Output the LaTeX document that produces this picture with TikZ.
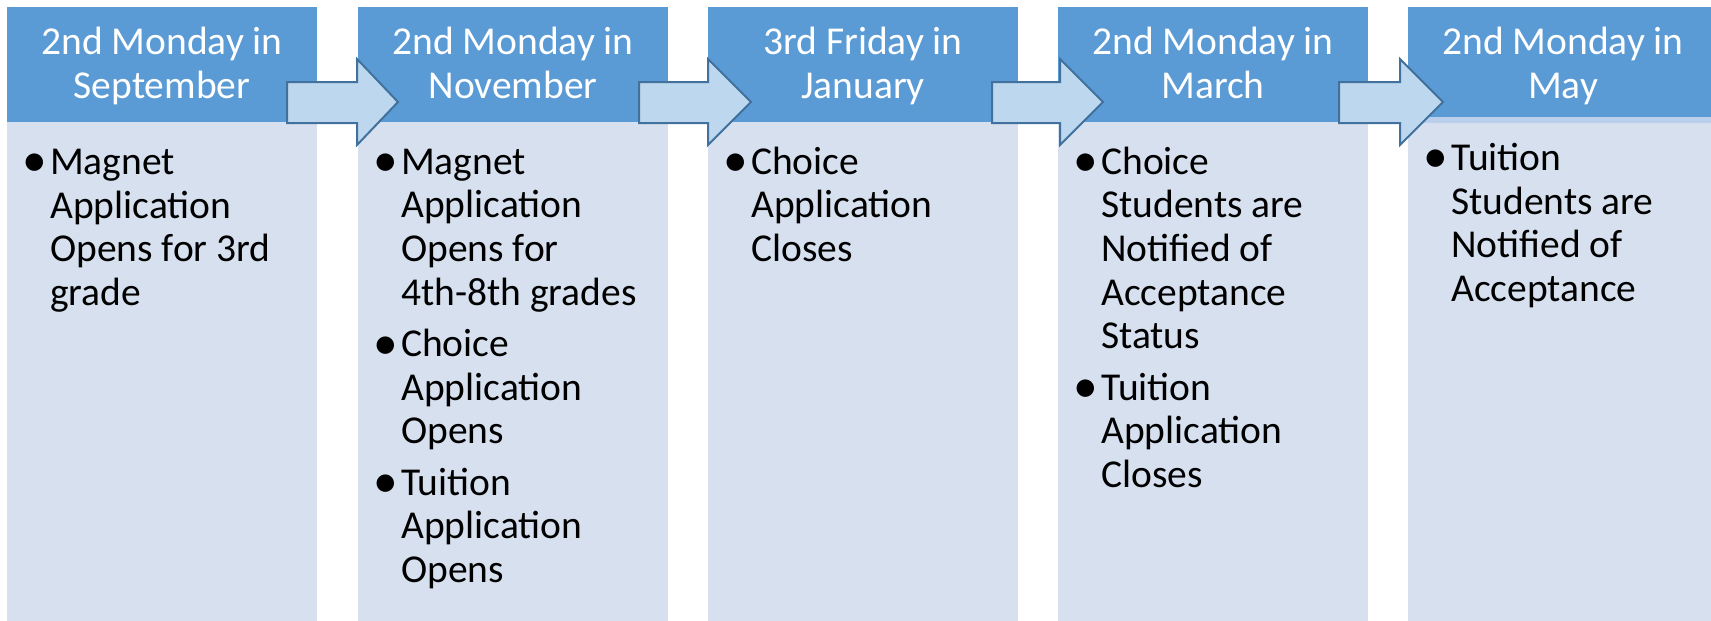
\documentclass[tikz,border=0pt]{standalone}
\usepackage{fontspec}
\setmainfont{Carlito}
\usepackage{xcolor}
\definecolor{headblue}{HTML}{5B9BD5}
\definecolor{bodyblue}{HTML}{D6E0EE}
\definecolor{stripblue}{HTML}{B9CFEB}
\definecolor{arrowfill}{HTML}{BDD7EE}
\definecolor{arrowline}{HTML}{41719C}
\newcommand{\dotitem}{\llap{\makebox[30pt]{\raisebox{-2.5pt}{\scalebox{1.25}{\textbullet}}}}}

\begin{document}
\begin{tikzpicture}[x=1pt,y=-1pt,
		headbox/.style={fill=headblue},
		bodybox/.style={fill=bodyblue},
		headtext/.style={text=white,align=center,inner sep=0pt,anchor=base,font=\fontsize{39.5}{44}\selectfont},
		bodytext/.style={align=left,inner sep=0pt,anchor=base west,font=\fontsize{39.5}{43.7}\selectfont},
		blockarrow/.style={fill=arrowfill,draw=arrowline,line width=2pt}]
			\useasboundingbox (0,0) rectangle (1711,621);
			\clip (0,0) rectangle (1711,621);
			% columns
			\fill[bodybox] (7,122) rectangle (317,621);
			\fill[headbox] (7,7) rectangle (317,122);
			\fill[bodybox] (358,122) rectangle (668,621);
			\fill[headbox] (358,7) rectangle (668,122);
			\fill[bodybox] (708,122) rectangle (1018,621);
			\fill[headbox] (708,7) rectangle (1018,122);
			\fill[bodybox] (1058,122) rectangle (1368,621);
			\fill[headbox] (1058,7) rectangle (1368,122);
			\fill[bodybox] (1408,123) rectangle (1718,621);
			\fill[stripblue] (1408,117) rectangle (1718,123);
			\fill[headbox] (1408,7) rectangle (1718,117);
			% dates (anchor = baseline of the last line)
			\node[headtext] (sep) at (162,98) {2nd Monday in\\September};
			\node[headtext] (nov) at (513,98) {2nd Monday in\\November};
			\node[headtext] (jan) at (863,98) {3rd Friday in\\January};
			\node[headtext] (mar) at (1213,98) {2nd Monday in\\March};
			\node[headtext] (may) at (1563,98) {2nd Monday in\\May};
			% events (anchor = baseline of the last line)
			\node[bodytext] (sepitems) at (50,305.5) {\dotitem Magnet\\Application\\Opens for 3rd\\grade};
			\node[bodytext] (novitems) at (401,582.5) {\dotitem Magnet\\Application\\Opens for\\4th-8th grades\\[7.5pt]
				\dotitem Choice\\Application\\Opens\\[7.5pt]
				\dotitem Tuition\\Application\\Opens};
			\node[bodytext] (janitems) at (751,261.5) {\dotitem Choice\\Application\\Closes};
			\node[bodytext] (maritems) at (1101,487.5) {\dotitem Choice\\Students are\\Notified of\\Acceptance\\Status\\[7.5pt]
				\dotitem Tuition\\Application\\Closes};
			\node[bodytext] (mayitems) at (1451,301.5) {\dotitem Tuition\\Students are\\Notified of\\Acceptance};
			% arrows
			\draw[blockarrow] (287,82) -- (357,82) -- (357,59) -- (398,102) -- (357,145) -- (357,123) -- (287,123) -- cycle;
			\draw[blockarrow] (639,82) -- (708,82) -- (708,59) -- (751,102) -- (708,145) -- (708,123) -- (639,123) -- cycle;
			\draw[blockarrow] (992,82) -- (1060,82) -- (1060,59) -- (1103,102) -- (1060,145) -- (1060,123) -- (992,123) -- cycle;
			\draw[blockarrow] (1339,82) -- (1400,82) -- (1400,59) -- (1443,102) -- (1400,145) -- (1400,123) -- (1339,123) -- cycle;
		\end{tikzpicture}
\end{document}
